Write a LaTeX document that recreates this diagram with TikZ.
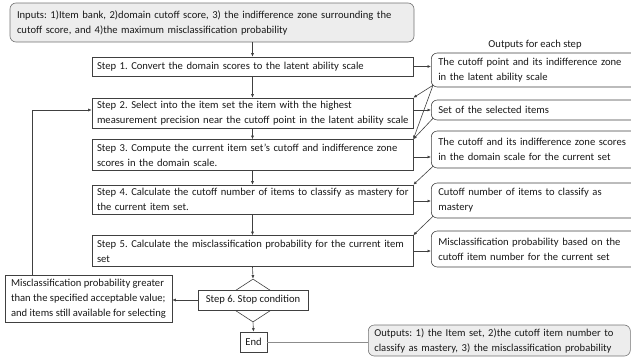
\documentclass[tikz,border=0pt]{standalone}
\usepackage{fontspec}
\setmainfont{Carlito}
\usetikzlibrary{arrows.meta,shapes.geometric}
\begin{document}
\frenchspacing
\begin{tikzpicture}[x=1pt,y=-1pt,
  font=\fontsize{10.6}{15}\selectfont\frenchspacing,
  every node/.style={text=black!90},
  stepbox/.style={draw=black!75, line width=0.6pt, fill=white, inner xsep=5pt, inner ysep=0pt, align=left, text width=311pt, minimum width=321pt},
  outbox/.style={draw=black!75, line width=0.6pt, fill=white, rounded corners=6pt, inner xsep=7pt, inner ysep=0pt, align=left, text width=215pt, minimum width=229pt},
  graybox/.style={draw=black!55, line width=0.6pt, fill=black!7, rounded corners=6pt, inner xsep=7pt, inner ysep=0pt, align=left},
  plainbox/.style={draw=black!75, line width=0.6pt, fill=white, inner xsep=5pt, inner ysep=0pt, align=left},
  arr/.style={draw=black!75, line width=0.6pt, -{Latex[length=3.5pt,width=3pt]}},
]
\useasboundingbox (0,0) rectangle (631,359);

% input
\node[graybox, text width=390pt, minimum height=39pt] (inp) at (212,22.5)
  {\mbox{Inputs: 1)Item bank, 2)domain cutoff score, 3) the indifference zone surrounding the}\\\mbox{cutoff score, and 4)the maximum misclassification probability}};

% steps
\node[stepbox, minimum height=19pt] (s1) at (252.5,66.5) {\mbox{Step 1. Convert the domain scores to the latent ability scale}};
\node[stepbox, minimum height=30pt] (s2) at (252.5,113) {\mbox{Step 2. Select into the item set the item with the highest}\\\mbox{measurement precision near the cutoff point in the latent ability scale}};
\node[stepbox, minimum height=31pt] (s3) at (252.5,155) {\mbox{Step 3. Compute the current item set's cutoff and indifference zone}\\\mbox{scores in the domain scale.}};
\node[stepbox, minimum height=29pt] (s4) at (252.5,199.5) {\mbox{Step 4. Calculate the cutoff number of items to classify as mastery for}\\\mbox{the current item set.}};
\node[stepbox, minimum height=31pt] (s5) at (252.5,251) {\mbox{Step 5. Calculate the misclassification probability for the current item}\\\mbox{set}};

% step 6
\node[diamond, draw=black!75, line width=0.6pt, minimum width=66pt, minimum height=43pt, inner sep=0pt] (d6) at (253,300.5) {};
\node[plainbox, minimum width=110pt, minimum height=20pt, align=center] (s6) at (253,300) {Step 6. Stop condition};
\node[plainbox, minimum width=27pt, minimum height=20pt, inner xsep=2pt, align=center] (end) at (253.5,342) {End};

% loop box
\node[plainbox, inner xsep=3pt, minimum width=167pt, minimum height=47pt] (loop) at (88.5,299)
  {Misclassification probability greater\\than the specified acceptable value;\\and items still available for selecting};

% outputs
\node (otitle) at (535,45) {Outputs for each step};
\node[outbox, minimum height=34pt, anchor=west] (o1) at (431,70) {The cutoff point and its indifference zone\\in the latent ability scale};
\node[outbox, minimum height=20pt, anchor=west] (o2) at (431,110) {Set of the selected items};
\node[outbox, minimum height=37pt, anchor=west] (o3) at (431,149.5) {The cutoff and its indifference zone scores\\in the domain scale for the current set};
\node[outbox, minimum height=35pt, anchor=west] (o4) at (431,200.5) {Cutoff number of items to classify as\\mastery};
\node[outbox, minimum height=36pt, anchor=west] (o5) at (431,249) {Misclassification probability based on the\\cutoff item number for the current set};

\node[graybox, inner xsep=6pt, text width=250pt, minimum height=31pt, anchor=west] (fin) at (368,340.5)
  {\mbox{Outputs: 1) the Item set, 2)the cutoff item number to}\\\mbox{classify as mastery, 3) the misclassification probability}};

% main flow
\draw[arr] (s1.north |- inp.south) -- (s1.north);
\draw[arr] (s1) -- (s2);
\draw[arr] (s2) -- (s3);
\draw[arr] (s3) -- (s4);
\draw[arr] (s4) -- (s5);
\draw[arr] (s5.south) -- (d6.north);
\draw[arr] (d6.south) -- (end.north);
\draw[arr] (s6.west) -- (s6.west -| loop.east);
\coordinate (lc) at (32,110);
\draw[arr] (loop.north -| lc) -- (lc) -- (s2.west |- lc);
\draw[draw=black!45, line width=0.6pt] (end.east) -- (end.east -| fin.west);

% step outputs
\draw[arr] (s1.east) -- (s1.east -| o1.west);
\draw[arr] (o2.west -| s2.east) -- (o2.west);
\draw[arr] (s3.east |- 0,157) -- (o3.west |- 0,157);
\draw[arr] (s4.east |- 0,201) -- (o4.west |- 0,201);
\draw[arr] (s5.east |- 0,251) -- (o5.west |- 0,251);

% feeding back
\draw[arr] ([shift={(2,-2)}]o1.south west) -- (s2.north east);
\draw[arr] ([shift={(2,-2)}]o1.south west) -- (s3.north east);
\draw[arr] ([shift={(2,-2)}]o2.south west) -- (s3.north east);
\draw[arr] ([shift={(2,-2)}]o3.south west) -- (s4.north east);
\draw[arr] ([shift={(2,-2)}]o4.south west) -- (s5.north east);
\end{tikzpicture}
\end{document}
